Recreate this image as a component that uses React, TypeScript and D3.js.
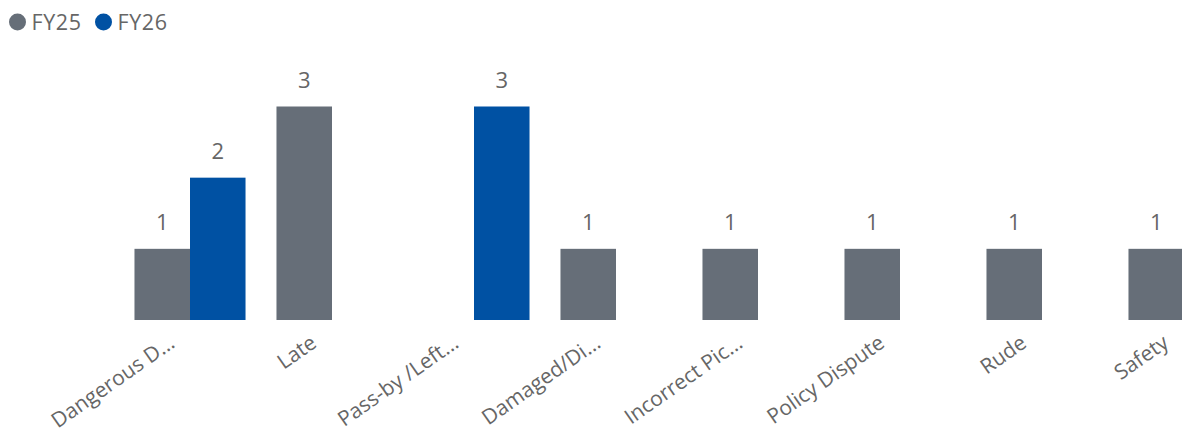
import React from "react";
import * as d3 from "d3";

const categories = [
  "Dangerous D...",
  "Late",
  "Pass-by /Left...",
  "Damaged/Di...",
  "Incorrect Pic...",
  "Policy Dispute",
  "Rude",
  "Safety",
];
const seriesNames = ["FY25", "FY26"];
const fy25: (number | null)[] = [1, 3, null, 1, 1, 1, 1, 1];
const fy26: (number | null)[] = [2, null, 3, null, null, null, null, null];
const seriesColors = ["#666E78", "#0051A3"];

const W = 1182;
const H = 437;
const FONT = "'Segoe UI', 'Open Sans', sans-serif";

export default function App() {
  const x = d3
    .scaleBand<string>()
    .domain(categories)
    .range([119, 1255])
    .paddingInner(0.218)
    .paddingOuter(0.109);
  const xi = d3
    .scaleBand<string>()
    .domain(seriesNames)
    .range([0, x.bandwidth()])
    .padding(0);
  const y = d3.scaleLinear().domain([0, 3]).range([320, 106.5]);
  const data = [fy25, fy26];

  return (
    <svg
      width={W}
      height={H}
      style={{ position: "absolute", left: 0, top: 0, display: "block", background: "#fff" }}
      fontFamily={FONT}
    >
      {/* legend */}
      {seriesNames.map((s, i) => {
        const lx = i === 0 ? 17.5 : 103.5;
        return (
          <g key={s}>
            <circle cx={lx} cy={22} r={8.5} fill={seriesColors[i]} />
            <text x={lx + 14} y={30} fontSize={21.5} fill="#666" letterSpacing={0.6}>
              {s}
            </text>
          </g>
        );
      })}
      {/* bars */}
      {categories.map((c, ci) => (
        <g key={c} transform={`translate(${x(c)},0)`}>
          {seriesNames.map((s, si) => {
            const v = data[si][ci];
            if (v == null) return null;
            const bx = xi(s)!;
            return (
              <g key={s}>
                <rect
                  x={bx}
                  y={y(v)}
                  width={xi.bandwidth()}
                  height={y(0) - y(v)}
                  fill={seriesColors[si]}
                />
                <text
                  x={bx + xi.bandwidth() / 2}
                  y={y(v) - 19}
                  textAnchor="middle"
                  fontSize={22}
                  fill="#666"
                >
                  {v}
                </text>
              </g>
            );
          })}
        </g>
      ))}
      {/* x axis labels */}
      {categories.map((c) => {
        const cx = x(c)! + x.bandwidth() / 2;
        return (
          <text
            key={c}
            transform={`translate(${cx - 14},${346}) rotate(-35)`}
            textAnchor="end"
            fontSize={21}
            fill="#666"
          >
            {c}
          </text>
        );
      })}
    </svg>
  );
}
